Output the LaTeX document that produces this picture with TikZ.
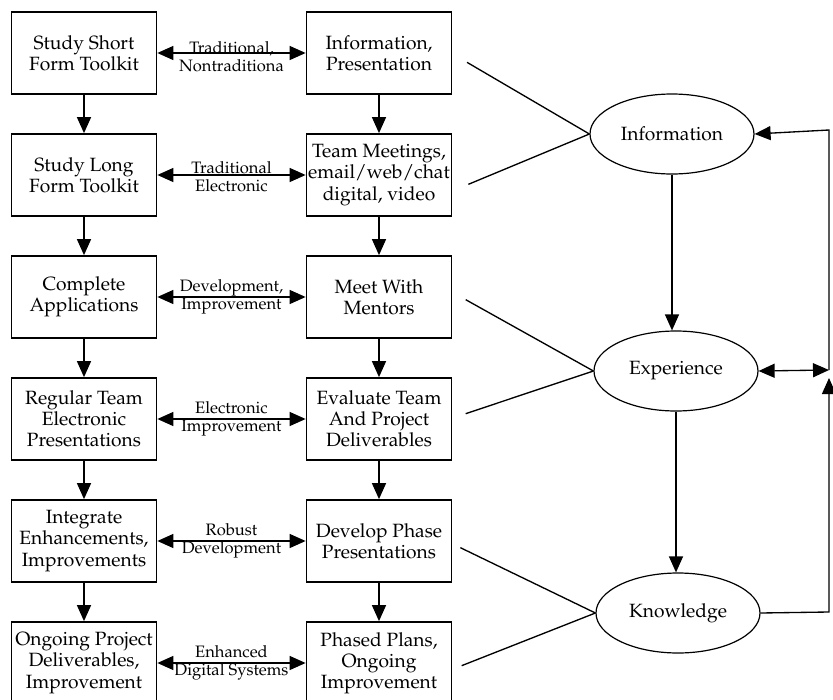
\documentclass[tikz,border=0pt]{standalone}
\usepackage[T1]{fontenc}
\usepackage{mathpazo}
\usetikzlibrary{arrows.meta,shapes.geometric}
\tikzset{
  box/.style={draw,line width=1.3pt,minimum width=108.75pt,minimum height=61.5pt,align=center,inner sep=1pt,font=\fontsize{14.4}{15.9}\selectfont},
  oval/.style={draw,ellipse,line width=0.9pt,minimum width=123pt,minimum height=60pt,font=\fontsize{14.4}{15.9}\selectfont},
  lbl/.style={align=center,inner sep=0pt,font=\fontsize{12.4}{13.5}\selectfont},
  tip/.style={-{Triangle[length=12pt,width=10.5pt]}},
  both/.style={{Triangle[length=12pt,width=10.5pt]}-{Triangle[length=12pt,width=10.5pt]}}
}
\begin{document}
\begin{tikzpicture}[x=0.75pt,y=-0.75pt,node distance=91.5pt,line width=1pt]
\useasboundingbox (0,0) rectangle (833,700);
\node[box] (l1) at (84,53) {Study Short\\Form Toolkit};
\node[box] (l2) [below of=l1] {Study Long\\Form Toolkit};
\node[box] (l3) [below of=l2] {Complete\\Applications};
\node[box] (l4) [below of=l3] {Regular Team\\Electronic\\Presentations};
\node[box] (l5) [below of=l4] {Integrate\\Enhancements,\\Improvements};
\node[box] (l6) [below of=l5] {Ongoing Project\\Deliverables,\\Improvement};

\node[box] (r1) at (379,53) {Information,\\Presentation};
\node[box] (r2) [below of=r1] {Team Meetings,\\email/web/chat\\digital, video};
\node[box] (r3) [below of=r2] {Meet With\\Mentors};
\node[box] (r4) [below of=r3] {Evaluate Team\\And Project\\Deliverables};
\node[box] (r5) [below of=r4] {Develop Phase\\Presentations};
\node[box] (r6) [below of=r5] {Phased Plans,\\Ongoing\\Improvement};

\node[oval] (info) at (672,134) {Information};
\node[oval] (exper) at (676,371) {Experience};
\node[oval] (know) at (678,613) {Knowledge};

\coordinate (c1) at (829,130);
\coordinate (c2) at (829,370);
\coordinate (c3) at (829,612);

\draw[both] (l1) -- node[lbl,yshift=-3pt]{Traditional,\\Nontraditiona} (r1);
\draw[both] (l2) -- node[lbl,yshift=-1pt]{Traditional\\Electronic} (r2);
\draw[both] (l3) -- node[lbl]{Development,\\Improvement} (r3);
\draw[both] (l4) -- node[lbl]{Electronic\\Improvement} (r4);
\draw[both] (l5) -- node[lbl]{Robust\\Development} (r5);
\draw[both] (l6) -- node[lbl]{Enhanced\\Digital Systems} (r6);

\draw[tip] (l1) -- (l2);
\draw[tip] (l2) -- (l3);
\draw[tip] (l3) -- (l4);
\draw[tip] (l4) -- (l5);
\draw[tip] (l5) -- (l6);
\draw[tip] (r1) -- (r2);
\draw[tip] (r2) -- (r3);
\draw[tip] (r3) -- (r4);
\draw[tip] (r4) -- (r5);
\draw[tip] (r5) -- (r6);

\draw ([xshift=11pt,yshift=-7pt]r1.east) -- (info.west);
\draw ([xshift=12pt,yshift=-7pt]r2.east) -- (info.west);
\draw ([xshift=10pt,yshift=-2pt]r3.east) -- (exper.west);
\draw ([xshift=10pt,yshift=4pt]r4.east) -- (exper.west);
\draw ([xshift=6pt,yshift=-5pt]r5.east) -- (know.west);
\draw ([xshift=7pt,yshift=-2pt]r6.east) -- (know.west);

\draw[tip] (info.south) -- (info.south |- exper.north);
\draw[tip] (exper.south) -- (exper.south |- know.north);
\draw[tip] (c2) -- (c1) -- (info.east);
\draw[both] (exper.east) -- (c2);
\draw[tip] (know.east) -- (c3) -- ([yshift=-6pt]c2);
\end{tikzpicture}
\end{document}
